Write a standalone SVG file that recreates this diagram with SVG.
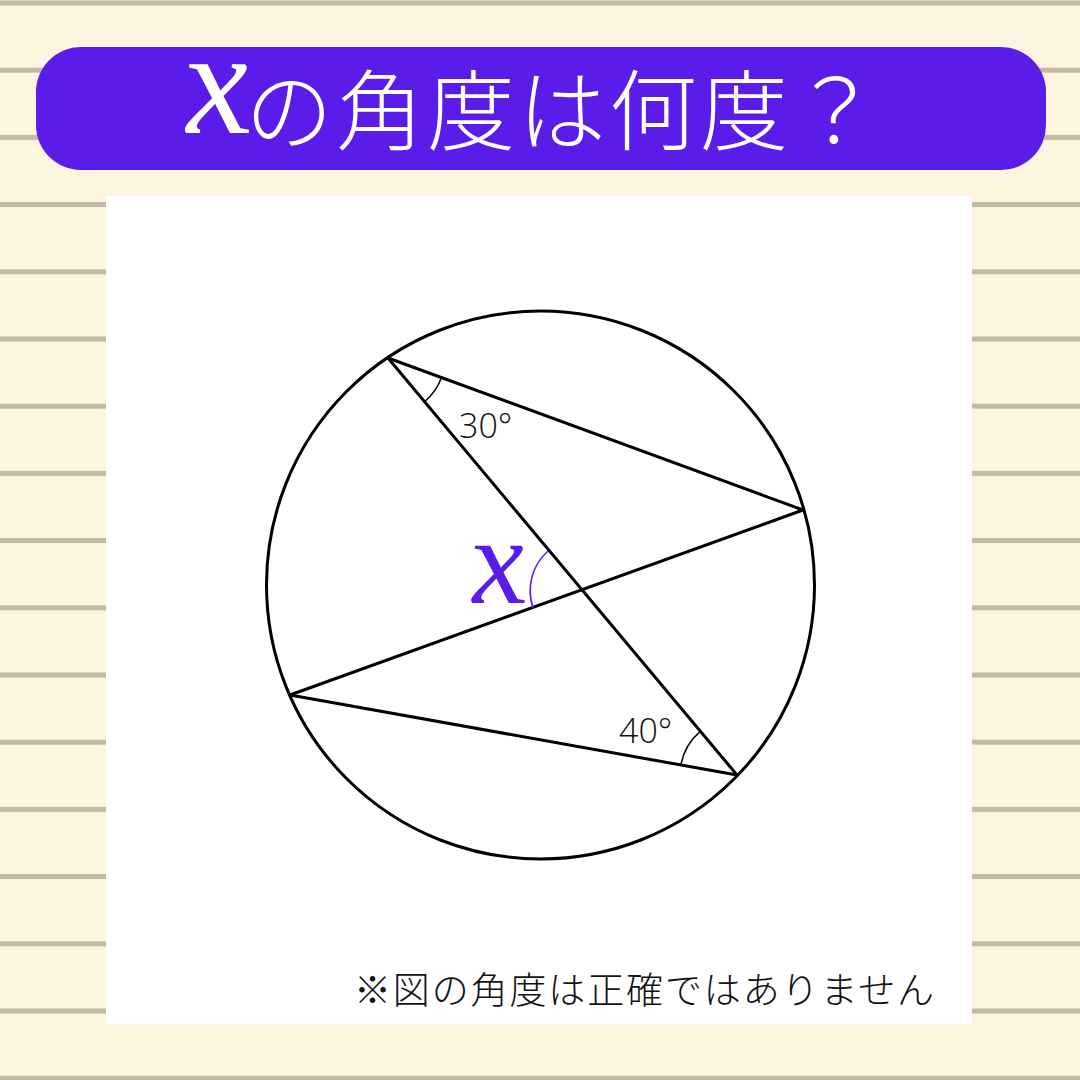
<svg xmlns="http://www.w3.org/2000/svg" width="1080" height="1080" viewBox="0 0 1080 1080">
<defs>
<pattern id="ruled" x="0" y="0.5" width="1080" height="67.2" patternUnits="userSpaceOnUse">
<rect x="0" y="0" width="1080" height="5" fill="#C3BAA6"/>
</pattern>
</defs>
<style>
.ln{stroke:#000;stroke-width:3;fill:none;stroke-linecap:round}
.arc{stroke:#000;stroke-width:1.5;fill:none}
.deg{font-family:"Open Sans","Noto Sans",sans-serif;font-weight:300;font-size:34px;fill:#111}
.jp{font-family:"Noto Sans CJK JP",sans-serif;font-weight:300}
.vx{font-family:"Liberation Serif",serif;font-style:italic}
</style>
<rect width="1080" height="1080" fill="#FDF5DF"/>
<rect width="1080" height="1080" fill="url(#ruled)"/>
<g id="title">
<rect x="36" y="47" width="1010" height="123" rx="45" fill="#5B1BE8"/>
<text class="vx" transform="translate(187,133) skewX(5)" font-size="150" fill="#fff">x</text>
<text class="jp" x="245" y="143" font-size="88" letter-spacing="3" fill="#fff">の角度は何度？</text>
</g>
<rect id="panel" x="106" y="196" width="866" height="828" fill="#fff"/>
<g id="figure">
<circle cx="540.5" cy="585" r="274" class="ln"/>
</g>
<g id="connectors">
<line x1="388" y1="358" x2="803" y2="510" class="ln"/>
<line x1="388" y1="358" x2="737" y2="775" class="ln"/>
<line x1="803" y1="510" x2="290" y2="695" class="ln"/>
<line x1="290" y1="695" x2="737" y2="775" class="ln"/>
</g>
<g id="angles">
<path d="M441.5,377.6 A57,57 0 0 1 424.6,401.7" class="arc"/>
<path d="M700.4,731.3 A57,57 0 0 0 680.9,764.8" class="arc"/>
<path d="M548.6,550.5 A53,53 0 0 0 533.1,608" stroke="#5B1BE8" stroke-width="1.6" fill="none"/>
<text x="459" y="438" class="deg">30°</text>
<text x="619" y="743" class="deg">40°</text>
<text class="vx" transform="translate(473,603) skewX(5)" font-size="125" fill="#5B1BE8">x</text>
</g>
<text id="note" class="jp" x="354" y="1004" font-size="37" textLength="580" lengthAdjust="spacing" fill="#111">※図の角度は正確ではありません</text>
</svg>
